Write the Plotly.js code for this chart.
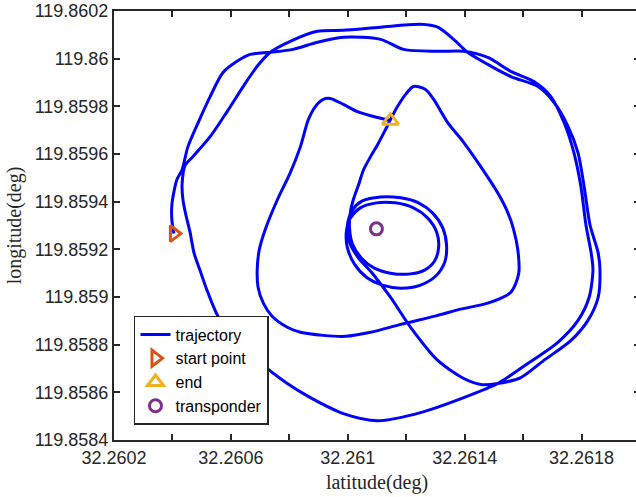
<!DOCTYPE html>
<html>
<head>
<meta charset="utf-8">
<script src="https://cdn.plot.ly/plotly-3.0.1.min.js"></script>
<style>
html,body{margin:0;padding:0;overflow:hidden;background:#ffffff;}
#chart{width:640px;height:497px;}
</style>
</head>
<body>
<div id="chart"></div>
<script>
// trajectory (latitude, longitude in degrees)
const trajLat = [
32.260405,32.260398,32.260398,32.260405,32.260415,32.260433,32.260453,32.260488,32.260529,32.260573,
32.260621,32.260666,32.260735,32.260813,32.260896,32.260985,32.261112,32.261191,32.261308,32.261397,
32.261479,32.261558,32.261637,32.261695,32.261740,32.261774,32.261798,32.261815,32.261833,32.261839,
32.261826,32.261788,32.261719,32.261616,32.261513,32.261397,32.261249,32.261102,32.260985,32.260872,
32.260793,32.260690,32.260587,32.260546,32.260518,32.260494,32.260474,32.260460,32.260446,32.260436,
32.260433,32.260443,32.260470,32.260529,32.260587,32.260642,32.260690,32.260735,32.260803,32.260896,
32.260985,32.261112,32.261249,32.261308,32.261362,32.261410,32.261479,32.261558,32.261651,32.261706,
32.261754,32.261788,32.261809,32.261829,32.261857,32.261863,32.261857,32.261822,32.261764,32.261671,
32.261592,32.261513,32.261455,32.261397,32.261308,32.261215,32.261146,32.261081,32.261037,32.261006,
32.260999,32.261016,32.261050,32.261112,32.261181,32.261242,32.261290,32.261325,32.261338,32.261332,
32.261301,32.261249,32.261181,32.261119,32.261064,32.261023,32.260999,32.260995,32.261009,32.261043,
32.261098,32.261163,32.261225,32.261273,32.261304,32.261311,32.261297,32.261263,32.261208,32.261146,
32.261091,32.261047,32.261016,32.261006,32.261009,32.261019,32.261037,32.261054,32.261078,32.261102,
32.261129,32.261146,32.261170,32.261198,32.261225,32.261266,32.261294,32.261342,32.261397,32.261455,
32.261513,32.261548,32.261568,32.261582,32.261585,32.261558,32.261479,32.261386,32.261308,32.261181,
32.261078,32.260992,32.260916,32.260838,32.260793,32.260741,32.260711,32.260693,32.260690,32.260697,
32.260717,32.260759,32.260803,32.260838,32.260865,32.260889,32.260916,32.260940,32.260985,32.261033,
32.261102,32.261146
];
const trajLon = [
119.859266,119.859323,119.859387,119.859441,119.859492,119.859534,119.859631,119.859732,119.859841,119.859942,
119.859989,119.860018,119.860027,119.860039,119.860069,119.860090,119.860081,119.860039,119.860031,119.860031,
119.860005,119.859947,119.859904,119.859841,119.859732,119.859605,119.859462,119.859302,119.859184,119.859113,
119.858999,119.858902,119.858810,119.858721,119.858637,119.858578,119.858515,119.858481,119.858511,119.858578,
119.858637,119.858734,119.858848,119.858944,119.859029,119.859113,119.859184,119.859273,119.859344,119.859408,
119.859471,119.859551,119.859589,119.859673,119.859778,119.859883,119.859968,119.860027,119.860073,119.860115,
119.860119,119.860132,119.860144,119.860132,119.860081,119.860027,119.859976,119.859925,119.859883,119.859816,
119.859715,119.859605,119.859462,119.859302,119.859184,119.859113,119.858999,119.858902,119.858818,119.858734,
119.858662,119.858637,119.858633,119.858658,119.858734,119.858873,119.858999,119.859104,119.859163,119.859231,
119.859302,119.859365,119.859403,119.859420,119.859416,119.859395,119.859353,119.859290,119.859218,119.859147,
119.859088,119.859050,119.859037,119.859050,119.859083,119.859138,119.859205,119.859273,119.859332,119.859374,
119.859395,119.859395,119.859374,119.859332,119.859273,119.859210,119.859151,119.859113,119.859096,119.859100,
119.859121,119.859163,119.859222,119.859290,119.859357,119.859408,119.859471,119.859534,119.859589,119.859639,
119.859702,119.859744,119.859799,119.859850,119.859883,119.859871,119.859829,119.859732,119.859648,119.859547,
119.859437,119.859353,119.859281,119.859197,119.859100,119.859020,119.858974,119.858949,119.858923,119.858885,
119.858852,119.858835,119.858839,119.858852,119.858873,119.858919,119.858974,119.859041,119.859113,119.859197,
119.859281,119.859408,119.859521,119.859631,119.859744,119.859799,119.859829,119.859833,119.859808,119.859778,
119.859753,119.859740
];
const startLat = [32.260405];
const startLon = [119.859266];
const endLat = [32.261146];
const endLon = [119.859740];
const transLat = [32.261098];
const transLon = [119.859286];

const xTickVals = [32.2602,32.2604,32.2606,32.2608,32.2610,32.2612,32.2614,32.2616,32.2618,32.2620];
const xTickText = ['32.2602','','32.2606','','32.261','','32.2614','','32.2618',''];
const yTickVals = [119.8584,119.8586,119.8588,119.8590,119.8592,119.8594,119.8596,119.8598,119.8600,119.8602];
const yTickText = ['119.8584','119.8586','119.8588','119.859','119.8592','119.8594','119.8596','119.8598','119.86','119.8602'];

const axisColor = '#262626';
const tickFont = {family:'Liberation Sans, Arial, sans-serif', size:18, color:axisColor};
const titleFont = {family:'Liberation Serif, Times New Roman, serif', size:20, color:axisColor};

const traces = [
  {x:trajLat, y:trajLon, type:'scatter', mode:'lines', name:'trajectory',
   line:{color:'#0000FF', width:3, shape:'spline', smoothing:0.8}},
  {x:startLat, y:startLon, type:'scatter', mode:'markers', name:'start point',
   marker:{symbol:'triangle-right-open', size:14, color:'#D95319', line:{width:3, color:'#D95319'}}},
  {x:endLat, y:endLon, type:'scatter', mode:'markers', name:'end',
   marker:{symbol:'triangle-up-open', size:14, color:'#EDB120', line:{width:3, color:'#EDB120'}}},
  {x:transLat, y:transLon, type:'scatter', mode:'markers', name:'transponder',
   marker:{symbol:'circle-open', size:12, color:'#7E2F8E', line:{width:3, color:'#7E2F8E'}}}
];

const layout = {
  width:640, height:497,
  margin:{l:114, r:0, t:11, b:57, pad:0},
  paper_bgcolor:'#ffffff', plot_bgcolor:'#ffffff',
  showlegend:true,
  xaxis:{
    range:[32.2602, 32.2620], autorange:false, automargin:false,
    tickmode:'array', tickvals:xTickVals, ticktext:xTickText,
    ticks:'inside', ticklen:6, tickwidth:2, tickcolor:axisColor,
    showline:true, linewidth:2, linecolor:axisColor, mirror:'ticks',
    showgrid:false, zeroline:false, tickfont:tickFont,
    title:{text:'latitude(deg)', font:titleFont, standoff:8}
  },
  yaxis:{
    range:[119.8584, 119.8602], autorange:false, automargin:false,
    tickmode:'array', tickvals:yTickVals, ticktext:yTickText,
    ticks:'inside', ticklen:6, tickwidth:2, tickcolor:axisColor,
    showline:true, linewidth:2, linecolor:axisColor, mirror:'ticks',
    showgrid:false, zeroline:false, tickfont:tickFont,
    title:{text:'longitude(deg)', font:titleFont, standoff:8}
  },
  legend:{
    x:0.038, y:0.035, xanchor:'left', yanchor:'bottom',
    bgcolor:'#ffffff', bordercolor:axisColor, borderwidth:1.5,
    font:{family:'Liberation Sans, Arial, sans-serif', size:16, color:'#000000'},
    tracegroupgap:0, entrywidth:128, entrywidthmode:'pixels'
  }
};

Plotly.newPlot('chart', traces, layout, {displayModeBar:false, staticPlot:true});
</script>
</body>
</html>
